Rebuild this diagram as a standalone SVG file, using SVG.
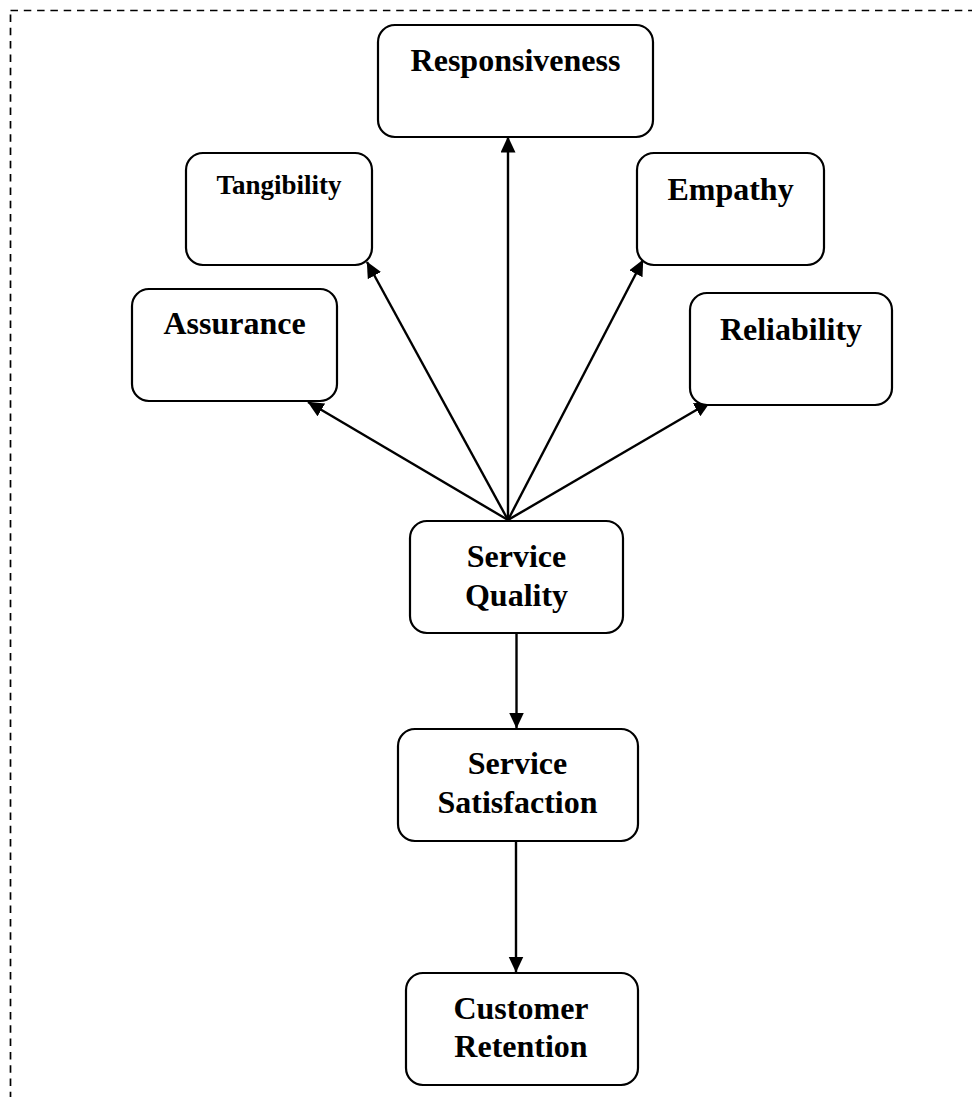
<svg xmlns="http://www.w3.org/2000/svg" width="972" height="1097" viewBox="0 0 972 1097">
<defs>
<marker id="ah" markerUnits="userSpaceOnUse" markerWidth="17" markerHeight="16" refX="15.5" refY="7.5" orient="auto">
<path d="M0,0 L16,7.5 L0,15 z" fill="#000"/>
</marker>
<style>
.box{fill:#fff;stroke:#000;stroke-width:2.2}
.t{font-family:"Liberation Serif","Times New Roman",serif;font-weight:bold;font-size:32px;text-anchor:middle;fill:#000}
.ts{font-size:27px}
.c{stroke:#000;stroke-width:2.4;fill:none;marker-end:url(#ah)}
</style>
</defs>
<rect x="0" y="0" width="972" height="1097" fill="#fff"/>
<rect x="10.5" y="10.5" width="1100" height="1200" fill="none" stroke="#000" stroke-width="1.7" stroke-dasharray="7.5 5.8"/>
<g id="connectors">
<line class="c" x1="508" y1="520" x2="508" y2="137"/>
<line class="c" x1="508" y1="520" x2="367" y2="262"/>
<line class="c" x1="508" y1="520" x2="308" y2="402"/>
<line class="c" x1="508" y1="520" x2="643" y2="260"/>
<line class="c" x1="508" y1="520" x2="710" y2="402"/>
<line class="c" x1="516.5" y1="633" x2="516.5" y2="728"/>
<line class="c" x1="516" y1="841" x2="516" y2="972"/>
</g>
<g id="responsiveness">
<rect class="box" x="378" y="25" width="275" height="112" rx="17"/>
<text class="t" x="515.5" y="71">Responsiveness</text>
</g>
<g id="tangibility">
<rect class="box" x="186" y="153" width="186" height="112" rx="17"/>
<text class="t ts" x="279" y="194">Tangibility</text>
</g>
<g id="assurance">
<rect class="box" x="132" y="289" width="205" height="112" rx="17"/>
<text class="t" x="234.5" y="334">Assurance</text>
</g>
<g id="empathy">
<rect class="box" x="637" y="153" width="187" height="112" rx="17"/>
<text class="t" x="730.5" y="200">Empathy</text>
</g>
<g id="reliability">
<rect class="box" x="690" y="293" width="202" height="112" rx="17"/>
<text class="t" x="791" y="340">Reliability</text>
</g>
<g id="service-quality">
<rect class="box" x="410" y="521" width="213" height="112" rx="17"/>
<text class="t" x="516.5" y="567">Service</text>
<text class="t" x="516.5" y="606">Quality</text>
</g>
<g id="service-satisfaction">
<rect class="box" x="398" y="729" width="240" height="112" rx="17"/>
<text class="t" x="517.5" y="774">Service</text>
<text class="t" x="517.5" y="812.5">Satisfaction</text>
</g>
<g id="customer-retention">
<rect class="box" x="406" y="973" width="232" height="112" rx="17"/>
<text class="t" x="521" y="1019">Customer</text>
<text class="t" x="521" y="1057">Retention</text>
</g>
</svg>
